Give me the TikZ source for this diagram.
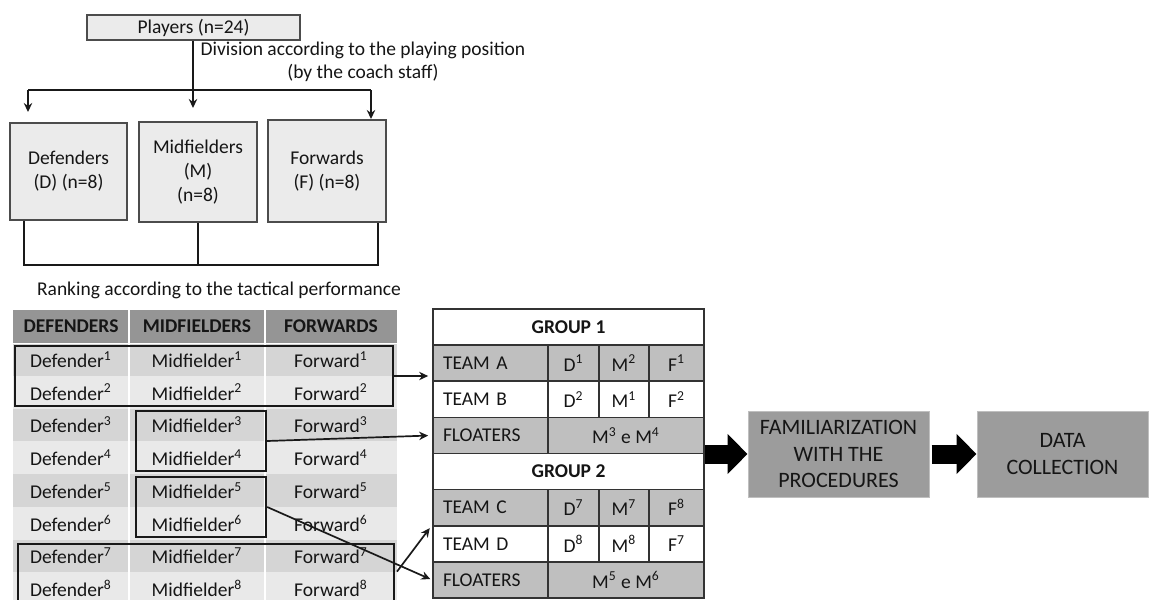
\documentclass[tikz,border=0pt]{standalone}
\usepackage{fontspec}
\setmainfont{Carlito}
\usetikzlibrary{arrows.meta,calc}
\definecolor{txt}{HTML}{151515}
\definecolor{lboxfill}{HTML}{EBEBEB}
\definecolor{hdrfill}{HTML}{959595}
\definecolor{rowA}{HTML}{D5D5D5}
\definecolor{rowB}{HTML}{E9E9E9}
\definecolor{tgray}{HTML}{BFBFBF}
\definecolor{stepfill}{HTML}{9C9C9C}
\newcommand\sups[1]{\textsuperscript{#1}}
\begin{document}
\begin{tikzpicture}[x=0.5pt,y=-0.5pt,
  font=\fontsize{9.75}{12}\selectfont, text=txt,
  lbox/.style={draw=black!70, fill=lboxfill, line width=0.8pt, align=center, inner sep=0pt},
  lcell/.style={inner sep=0pt, minimum height=16.375pt},
  hcell/.style={inner sep=0pt, minimum height=16.5pt, fill=hdrfill, font=\fontsize{9.75}{12}\selectfont\bfseries},
  selbox/.style={draw=black!90, line width=1.2pt, inner sep=0pt, minimum height=30pt},
  rcell/.style={draw=black!80, line width=0.85pt, inner sep=0pt, minimum height=18.0625pt},
  rlab/.style={rcell, text width=47.5pt, inner xsep=5pt, align=left},
  arr/.style={draw=black!90, line width=0.85pt, -{Stealth[length=4.5pt,width=4.2pt]}},
  plain/.style={draw=black!90, line width=0.85pt},
  bigarrow/.style={draw=black, line width=9.5pt, -{Triangle[length=10pt,width=19.5pt]}},
  stepbox/.style={draw=black!25, fill=stepfill, line width=0.5pt, align=center, inner sep=0pt, minimum height=43pt, font=\fontsize{11}{13.3}\selectfont}
]
\useasboundingbox (0,0) rectangle (1152,600);
\clip (0,0) rectangle (1152,600);

% ---------- top part ----------
\node[lbox, minimum width=106.5pt, minimum height=12.5pt] (players) at (193.5,27.5) {Players (n=24)};
\node[align=center, font=\fontsize{9.75}{11.5}\selectfont] (divtxt) at (363,61.5) {Division according to the playing position\\(by the coach staff)};

\node[lbox, minimum width=58.5pt, minimum height=48.5pt] (def) at (68.5,171.5) {Defenders\\(D) (n=8)};
\node[lbox, minimum width=59pt, minimum height=50pt] (mid) at (198,172) {Midfielders\\(M)\\(n=8)};
\node[lbox, minimum width=59pt, minimum height=51pt] (fwd) at (327,171) {Forwards\\(F) (n=8)};

\coordinate (split) at (193,90);
\coordinate (sl) at (28,90);
\coordinate (sr) at (371,90);
\coordinate (dend) at (28,112);
\coordinate (mend) at (193,108);
\coordinate (fend) at (371,119);
\draw[plain] (players.south -| split) -- (split);
\draw[plain] (sl) -- (sr);
\draw[arr] (sl) -- (dend);
\draw[arr] (split) -- (mend);
\draw[arr] (sr) -- (fend);

\coordinate (j1) at (24,265);
\coordinate (j3) at (378,265);
\draw[plain] (def.south -| j1) -- (j1) -- (j3) -- (fwd.south -| j3);
\draw[plain] (mid.south) -- (mid.south |- j1);

\node (rank) at (219,290) {Ranking according to the tactical performance};

% ---------- left table ----------
\node[hcell, minimum width=58pt] (hd) at (71,326.5) {DEFENDERS};
\node[hcell, minimum width=68pt] (hm) at (197,326.5) {MIDFIELDERS};
\node[hcell, minimum width=66pt] (hf) at (331,326.5) {FORWARDS};
\foreach \i in {1,...,8} {
  \pgfmathsetmacro\yc{343+(\i-0.5)*32.75}
  \ifodd\i\relax \def\rf{rowA}\else \def\rf{rowB}\fi
  \node[lcell, fill=\rf, minimum width=58pt] (d\i) at (71,\yc) {Defender\sups{\i}};
  \node[lcell, fill=\rf, minimum width=68pt] (m\i) at (197,\yc) {Midfielder\sups{\i}};
  \node[lcell, fill=\rf, minimum width=66pt] (f\i) at (331,\yc) {Forward\sups{\i}};
}
\draw[white, line width=1pt] (hd.north east) -- (hd.north east |- 0,600);
\draw[white, line width=1pt] (hm.north east) -- (hm.north east |- 0,600);
\draw[white, line width=0.6pt] (hd.south west) -- (hf.south east);

\node[selbox, minimum width=189pt] (box12) at (204,376) {};
\node[selbox, minimum width=65pt] (box34) at (201,441) {};
\node[selbox, minimum width=65pt] (box56) at (201,507) {};
\node[selbox, minimum width=188pt] (box78) at (206,574) {};

% ---------- right table ----------
\node[rcell, minimum width=135.5pt, font=\fontsize{9.75}{12}\selectfont\bfseries] (g1) at (568.5,327.06) {GROUP 1};
\node[rlab, fill=tgray] (ta) at (490.5,363.19) {TEAM A};
\node[rcell, fill=tgray, minimum width=25.5pt] (ta1) at (573.5,363.19) {D\sups{1}};
\node[rcell, fill=tgray, minimum width=25pt] (ta2) at (624,363.19) {M\sups{2}};
\node[rcell, fill=tgray, minimum width=27.5pt] (ta3) at (676.5,363.19) {F\sups{1}};
\node[rlab, fill=white] (tb) at (490.5,399.31) {TEAM B};
\node[rcell, fill=white, minimum width=25.5pt] (tb1) at (573.5,399.31) {D\sups{2}};
\node[rcell, fill=white, minimum width=25pt] (tb2) at (624,399.31) {M\sups{1}};
\node[rcell, fill=white, minimum width=27.5pt] (tb3) at (676.5,399.31) {F\sups{2}};
\node[rlab, fill=tgray] (fl1) at (490.5,435.44) {FLOATERS};
\node[rcell, fill=tgray, minimum width=78pt] (fl1v) at (626,435.44) {M\sups{3} e M\sups{4}};
\node[rcell, fill=white, minimum width=135.5pt, font=\fontsize{9.75}{12}\selectfont\bfseries] (g2) at (568.5,471.56) {GROUP 2};
\node[rlab, fill=tgray] (tc) at (490.5,507.69) {TEAM C};
\node[rcell, fill=tgray, minimum width=25.5pt] (tc1) at (573.5,507.69) {D\sups{7}};
\node[rcell, fill=tgray, minimum width=25pt] (tc2) at (624,507.69) {M\sups{7}};
\node[rcell, fill=tgray, minimum width=27.5pt] (tc3) at (676.5,507.69) {F\sups{8}};
\node[rlab, fill=white] (td) at (490.5,543.81) {TEAM D};
\node[rcell, fill=white, minimum width=25.5pt] (td1) at (573.5,543.81) {D\sups{8}};
\node[rcell, fill=white, minimum width=25pt] (td2) at (624,543.81) {M\sups{8}};
\node[rcell, fill=white, minimum width=27.5pt] (td3) at (676.5,543.81) {F\sups{7}};
\node[rlab, fill=tgray] (fl2) at (490.5,579.94) {FLOATERS};
\node[rcell, fill=tgray, minimum width=78pt] (fl2v) at (626,579.94) {M\sups{5} e M\sups{6}};

% ---------- connectors ----------
\draw[arr, shorten >=2pt] (box12.east) -- (box12.east -| ta.west);
\draw[arr, shorten >=2pt] (box34.east) -- (fl1.west);
\draw[arr, shorten >=1pt] (box56.east) -- (fl2.west);
\draw[arr, shorten >=2pt, shorten <=1.5pt] (box78.east) -- (td.north west);

% ---------- steps ----------
\node[stepbox, minimum width=90.5pt] (fam) at (838.5,454) {FAMILIARIZATION\\WITH THE\\PROCEDURES};
\node[stepbox, minimum width=85.5pt] (data) at (1062.5,454) {DATA\\COLLECTION};
\draw[bigarrow] (fam.west -| g2.east) -- (fam.west);
\draw[bigarrow] ($(fam.east)+(2,0)$) -- (data.west);
\end{tikzpicture}
\end{document}
